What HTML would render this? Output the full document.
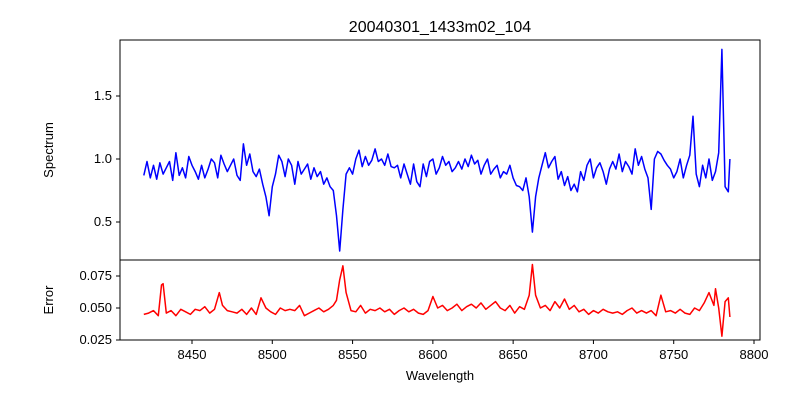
<!DOCTYPE html>
<html><head><meta charset="utf-8"><style>
body{margin:0;background:#fff}
svg{font-family:"Liberation Sans",sans-serif}
</style></head><body>
<svg id="chart" width="800" height="400" xmlns="http://www.w3.org/2000/svg">
<rect width="800" height="400" fill="#fff"/>
<text x="440" y="32" font-size="16" text-anchor="middle">20040301_1433m02_104</text>
<g id="topPanel"></g>
<g id="botPanel"></g>
<text x="0" y="0" font-size="13" text-anchor="middle" transform="translate(53,150) rotate(-90)">Spectrum</text>
<text x="0" y="0" font-size="13" text-anchor="middle" transform="translate(53,300) rotate(-90)">Error</text>
<text x="440" y="380" font-size="13" text-anchor="middle">Wavelength</text>
</svg>
<script>
const waveF=[
8420,8422,8424,8426,8428,8430,8432,8434,8436,8438,
8440,8442,8444,8446,8448,8450,8452,8454,8456,8458,
8460,8462,8464,8466,8468,8470,8472,8474,8476,8478,
8480,8482,8484,8486,8488,8490,8492,8494,8496,8498,
8500,8502,8504,8506,8508,8510,8512,8514,8516,8518,
8520,8522,8524,8526,8528,8530,8532,8534,8536,8538,
8540,8542,8544,8546,8548,8550,8552,8554,8556,8558,
8560,8562,8564,8566,8568,8570,8572,8574,8576,8578,
8580,8582,8584,8586,8588,8590,8592,8594,8596,8598,
8600,8602,8604,8606,8608,8610,8612,8614,8616,8618,
8620,8622,8624,8626,8628,8630,8632,8634,8636,8638,
8640,8642,8644,8646,8648,8650,8652,8654,8656,8658,
8660,8662,8664,8666,8668,8670,8672,8674,8676,8678,
8680,8682,8684,8686,8688,8690,8692,8694,8696,8698,
8700,8702,8704,8706,8708,8710,8712,8714,8716,8718,
8720,8722,8724,8726,8728,8730,8732,8734,8736,8738,
8740,8742,8744,8746,8748,8750,8752,8754,8756,8758,
8760,8762,8764,8766,8768,8770,8772,8774,8776,8778,
8780,8782,8784,8785];
const flux=[
0.87,0.98,0.85,0.95,0.84,0.97,0.88,0.93,0.98,0.83,
1.05,0.87,0.93,0.85,1.02,0.95,0.90,0.84,0.95,0.85,
0.92,1.00,0.97,0.85,1.03,0.96,0.90,0.95,1.00,0.87,
0.83,1.12,0.95,1.04,0.90,0.86,0.92,0.80,0.70,0.55,
0.78,0.88,1.03,0.98,0.86,1.00,0.95,0.80,0.98,0.88,
0.92,0.96,0.84,0.93,0.86,0.90,0.80,0.85,0.78,0.75,
0.55,0.27,0.60,0.88,0.93,0.88,1.00,1.07,0.94,1.02,
0.95,0.99,1.08,0.98,1.00,0.95,1.04,0.94,0.93,0.95,
0.85,0.96,0.88,0.80,0.96,0.82,0.78,0.96,0.86,0.98,
1.00,0.88,0.93,1.02,0.95,0.98,0.90,0.93,0.98,0.92,
1.00,0.94,1.03,0.96,0.99,0.88,0.95,1.00,0.88,0.92,
0.95,0.85,0.90,0.88,0.95,0.85,0.79,0.78,0.75,0.85,
0.70,0.42,0.70,0.85,0.95,1.05,0.93,0.98,1.02,0.84,
0.90,0.79,0.86,0.75,0.80,0.74,0.90,0.83,0.95,1.00,
0.85,0.93,0.97,0.90,0.80,0.92,0.98,0.92,1.04,0.90,
0.98,0.94,0.88,1.08,0.95,1.02,0.92,0.85,0.60,1.00,
1.06,1.04,0.99,0.95,0.92,0.85,0.90,1.00,0.85,0.95,
1.03,1.34,0.88,0.78,0.95,0.85,1.00,0.83,0.90,1.05,
1.87,0.78,0.74,1.00];
const waveE=[8420,8423,8426,8429,8431,8432,8434,8437,8440,8443,8446,8449,8452,8455,8458,8461,8464,8467,8469,8472,8475,8478,8481,8484,8487,8490,8493,8496,8499,8502,8505,8508,8511,8514,8517,8520,8523,8526,8529,8532,8535,8538,8540,8542,8544,8546,8549,8552,8555,8558,8561,8564,8567,8570,8573,8576,8579,8582,8585,8588,8591,8594,8597,8600,8603,8606,8609,8612,8615,8618,8621,8624,8627,8630,8633,8636,8639,8642,8645,8648,8651,8654,8657,8660,8662,8664,8667,8670,8673,8676,8679,8682,8685,8688,8691,8694,8697,8700,8703,8706,8709,8712,8715,8718,8721,8724,8727,8730,8733,8736,8739,8742,8745,8748,8751,8754,8757,8760,8763,8766,8769,8772,8775,8776,8778,8780,8782,8784,8785];
const errv=[0.045,0.046,0.048,0.044,0.068,0.069,0.046,0.048,0.044,0.049,0.047,0.045,0.049,0.048,0.051,0.046,0.049,0.062,0.052,0.048,0.047,0.046,0.049,0.045,0.050,0.045,0.058,0.050,0.047,0.045,0.050,0.048,0.049,0.048,0.052,0.044,0.046,0.048,0.050,0.047,0.049,0.052,0.056,0.072,0.083,0.062,0.048,0.047,0.052,0.046,0.049,0.048,0.050,0.047,0.049,0.045,0.048,0.050,0.047,0.049,0.046,0.045,0.048,0.059,0.050,0.052,0.048,0.050,0.053,0.048,0.051,0.053,0.050,0.054,0.049,0.052,0.055,0.050,0.048,0.052,0.046,0.051,0.049,0.060,0.084,0.060,0.050,0.052,0.048,0.055,0.050,0.057,0.049,0.052,0.047,0.049,0.045,0.048,0.046,0.049,0.047,0.046,0.047,0.045,0.048,0.050,0.046,0.048,0.046,0.048,0.044,0.060,0.047,0.048,0.046,0.049,0.046,0.045,0.050,0.048,0.054,0.062,0.052,0.065,0.050,0.028,0.055,0.058,0.043];
const xTicks=[8450,8500,8550,8600,8650,8700,8750,8800];
const yTicksTop=[0.5,1.0,1.5];
const yTicksBot=[0.025,0.050,0.075];

const NS="http://www.w3.org/2000/svg";
const L=120,R=760;
const xs=w=>192+(w-8450)*(754-192)/350;
const yT=v=>159-(v-1.0)*126;
const yB=v=>308-(v-0.05)*1280;
function mk(tag,attrs,parent){const e=document.createElementNS(NS,tag);for(const k in attrs)e.setAttribute(k,attrs[k]);parent.appendChild(e);return e;}
const gTop=document.getElementById('topPanel'),gBot=document.getElementById('botPanel');
let d='';
const nF=Math.min(waveF.length,flux.length);
for(let i=0;i<nF;i++){d+=(i?'L':'M')+xs(waveF[i]).toFixed(1)+','+yT(flux[i]).toFixed(1);}
const lf=mk('path',{d:d,fill:'none',stroke:'#0000ff','stroke-width':1.5,'stroke-linejoin':'round'},gTop);


d='';
const nE=Math.min(waveE.length,errv.length);
for(let i=0;i<nE;i++){d+=(i?'L':'M')+xs(waveE[i]).toFixed(1)+','+yB(errv[i]).toFixed(1);}
const le=mk('path',{d:d,fill:'none',stroke:'#ff0000','stroke-width':1.5,'stroke-linejoin':'round'},gBot);


const f1=mk('rect',{x:L,y:40,width:R-L,height:220,fill:'none',stroke:'#000','stroke-width':1},gTop);


const f2=mk('rect',{x:L,y:260,width:R-L,height:80,fill:'none',stroke:'#000','stroke-width':1},gBot);


yTicksTop.forEach(v=>{const y=yT(v);mk('line',{x1:L-4,x2:L,y1:y,y2:y,stroke:'#000'},gTop);
const t=mk('text',{x:L-8,y:y+4,'font-size':13,'text-anchor':'end'},gTop);t.textContent=v.toFixed(1);

});
yTicksBot.forEach(v=>{const y=yB(v);mk('line',{x1:L-4,x2:L,y1:y,y2:y,stroke:'#000'},gBot);
const t=mk('text',{x:L-8,y:y+4,'font-size':13,'text-anchor':'end'},gBot);t.textContent=v.toFixed(3);

});
xTicks.forEach(v=>{const x=xs(v);mk('line',{x1:x,x2:x,y1:340,y2:344,stroke:'#000'},gBot);
const t=mk('text',{x:x,y:359,'font-size':13,'text-anchor':'middle'},gBot);t.textContent=v;

});
</script>
</body></html>
